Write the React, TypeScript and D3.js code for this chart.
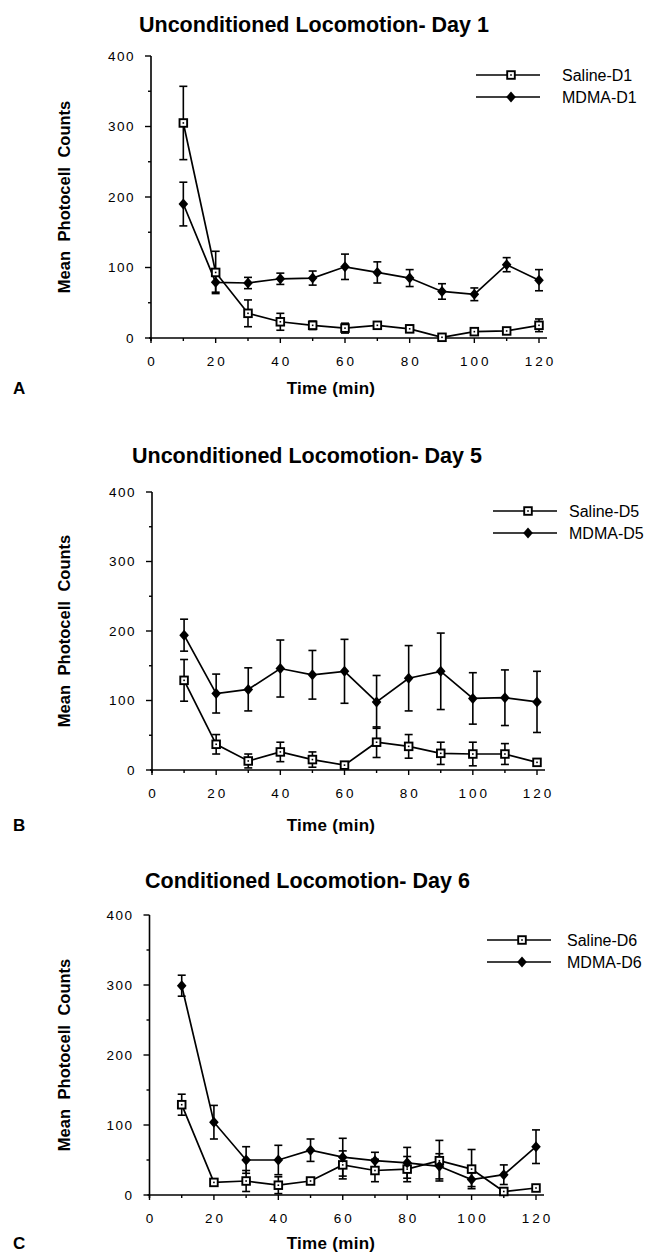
import React from "react";
import * as d3 from "d3";

const times = [10, 20, 30, 40, 50, 60, 70, 80, 90, 100, 110, 120];
const xTicks = [0, 20, 40, 60, 80, 100, 120];
const yTicks = [0, 100, 200, 300, 400];

const salineD1 = [305, 93, 35, 23, 18, 14, 18, 13, 1, 9, 10, 18];
const salineD1Err = [52, 30, 19, 12, 6, 7, 5, 5, 2, 4, 4, 9];
const mdmaD1 = [190, 79, 78, 84, 85, 101, 93, 85, 66, 62, 104, 82];
const mdmaD1Err = [31, 14, 8, 8, 10, 18, 15, 12, 11, 9, 10, 15];

const salineD5 = [129, 37, 13, 26, 15, 7, 40, 34, 24, 23, 23, 11];
const salineD5Err = [30, 14, 10, 14, 11, 4, 22, 17, 16, 17, 15, 3];
const mdmaD5 = [194, 110, 116, 146, 137, 142, 98, 132, 142, 103, 104, 98];
const mdmaD5Err = [23, 28, 31, 41, 35, 46, 38, 47, 55, 37, 40, 44];

const salineD6 = [129, 18, 20, 14, 20, 43, 35, 37, 49, 37, 5, 10];
const salineD6Err = [15, 3, 15, 12, 4, 20, 16, 18, 29, 28, 3, 3];
const mdmaD6 = [299, 104, 50, 50, 64, 54, 49, 46, 41, 22, 29, 69];
const mdmaD6Err = [15, 24, 19, 21, 16, 27, 12, 22, 18, 10, 14, 24];

const FONT = "'Liberation Sans', Arial, Helvetica, sans-serif";

// pixel frame of each panel; the marks come from the arrays above
const panels = [
  {
    title: "Unconditioned Locomotion- Day 1", letter: "A", titleX: 139,
    x0: 151, x1: 539, y0: 338, y1: 56, titleY: 32, legY: 75, legX: 476, legText: 562,
    saline: salineD1, salineErr: salineD1Err, mdma: mdmaD1, mdmaErr: mdmaD1Err,
    names: ["Saline-D1", "MDMA-D1"], bottomY: 388,
  },
  {
    title: "Unconditioned Locomotion- Day 5", letter: "B", titleX: 132,
    x0: 152, x1: 537, y0: 770, y1: 492, titleY: 463, legY: 511, legX: 493, legText: 569,
    saline: salineD5, salineErr: salineD5Err, mdma: mdmaD5, mdmaErr: mdmaD5Err,
    names: ["Saline-D5", "MDMA-D5"], bottomY: 825,
  },
  {
    title: "Conditioned Locomotion- Day 6", letter: "C", titleX: 145,
    x0: 149.5, x1: 536, y0: 1195, y1: 915, titleY: 888, legY: 940, legX: 487, legText: 567,
    saline: salineD6, salineErr: salineD6Err, mdma: mdmaD6, mdmaErr: mdmaD6Err,
    names: ["Saline-D6", "MDMA-D6"], bottomY: 1243,
  },
];

function Square({ x, y }: { x: number; y: number }) {
  return (
    <g>
      <rect x={x - 3.8} y={y - 3.8} width={7.6} height={7.6} fill="#fff" stroke="#000" strokeWidth={1.9} />
      <rect x={x - 0.8} y={y - 0.8} width={1.6} height={1.6} fill="#000" />
    </g>
  );
}

function Diamond({ x, y }: { x: number; y: number }) {
  return <path d={`M${x},${y - 5.5} L${x + 4.8},${y} L${x},${y + 5.5} L${x - 4.8},${y} Z`} fill="#000" />;
}

function Panel({ p }: { p: any }) {
  const x = d3.scaleLinear().domain([0, 120]).range([p.x0, p.x1]);
  const y = d3.scaleLinear().domain([0, 400]).range([p.y0, p.y1]);
  const line = d3.line<number>().x((_, i) => x(times[i])).y((d) => y(d));
  const minorY = d3.range(50, 400, 100);
  const minorX = d3.range(10, 130, 20);
  const midY = (p.y0 + p.y1) / 2;

  const errBars = (vals: number[], errs: number[]) =>
    vals.map((v, i) => {
      const cx = x(times[i]);
      const top = y(v + errs[i]);
      const bot = y(Math.max(0, v - errs[i]));
      return (
        <g key={i} stroke="#000" strokeWidth={1.6}>
          <line x1={cx} x2={cx} y1={top} y2={bot} />
          <line x1={cx - 4} x2={cx + 4} y1={top} y2={top} />
          <line x1={cx - 4} x2={cx + 4} y1={bot} y2={bot} />
        </g>
      );
    });

  return (
    <g fontFamily={FONT}>
      <text x={p.titleX} y={p.titleY} fontSize={21.5} fontWeight="bold">
        {p.title}
      </text>
      {/* axes */}
      <line x1={p.x0} x2={p.x0} y1={p.y1} y2={p.y0 + 3} stroke="#000" strokeWidth={1.6} />
      <line x1={p.x0 - 2} x2={p.x1 + 8} y1={p.y0} y2={p.y0} stroke="#000" strokeWidth={1.6} />
      {yTicks.map((t) => (
        <g key={t}>
          <line x1={p.x0 - 6} x2={p.x0} y1={y(t)} y2={y(t)} stroke="#000" strokeWidth={1.4} />
          <text x={p.x0 - 16} y={y(t)} dy="0.35em" fontSize={13.5} textAnchor="end" letterSpacing={1.5}>{t}</text>
        </g>
      ))}
      {minorY.map((t) => (
        <line key={t} x1={p.x0 - 3} x2={p.x0} y1={y(t)} y2={y(t)} stroke="#000" strokeWidth={1.4} />
      ))}
      {xTicks.map((t) => (
        <g key={t}>
          <line x1={x(t)} x2={x(t)} y1={p.y0} y2={p.y0 + 5} stroke="#000" strokeWidth={1.4} />
          <text x={x(t) + 1.5} y={p.y0 + 28} fontSize={13.5} textAnchor="middle" letterSpacing={3}>{t}</text>
        </g>
      ))}
      {minorX.map((t) => (
        <line key={t} x1={x(t)} x2={x(t)} y1={p.y0} y2={p.y0 + 3} stroke="#000" strokeWidth={1.4} />
      ))}
      <text
        transform={`translate(70,${midY}) rotate(-90)`}
        fontSize={16.5} fontWeight="bold" textAnchor="middle" wordSpacing={5}
      >
        Mean Photocell Counts
      </text>
      <text x={331} y={p.bottomY} dy="0.35em" fontSize={17} fontWeight="bold" textAnchor="middle" letterSpacing={0.3}>
        Time (min)
      </text>
      <text x={13} y={p.bottomY} dy="0.35em" fontSize={17} fontWeight="bold">{p.letter}</text>

      {/* series */}
      {errBars(p.saline, p.salineErr)}
      {errBars(p.mdma, p.mdmaErr)}
      <path d={line(p.saline) || ""} fill="none" stroke="#000" strokeWidth={1.7} />
      <path d={line(p.mdma) || ""} fill="none" stroke="#000" strokeWidth={1.7} />
      {p.saline.map((v: number, i: number) => <Square key={i} x={x(times[i])} y={y(v)} />)}
      {p.mdma.map((v: number, i: number) => <Diamond key={i} x={x(times[i])} y={y(v)} />)}

      {/* legend */}
      {[0, 1].map((k) => {
        const ly = p.legY + k * 22;
        return (
          <g key={k}>
            <line x1={p.legX} x2={p.legX + 64} y1={ly} y2={ly} stroke="#000" strokeWidth={1.7} />
            {k === 0 ? <Square x={p.legX + 35} y={ly} /> : <Diamond x={p.legX + 35} y={ly} />}
            <text x={p.legText} y={ly} dy="0.35em" fontSize={16}>{p.names[k]}</text>
          </g>
        );
      })}
    </g>
  );
}

export default function App() {
  return (
    <svg
      width={659}
      height={1254}
      style={{ position: "absolute", left: 0, top: 0, background: "#fff" }}
    >
      {panels.map((p) => (
        <Panel key={p.letter} p={p} />
      ))}
    </svg>
  );
}
